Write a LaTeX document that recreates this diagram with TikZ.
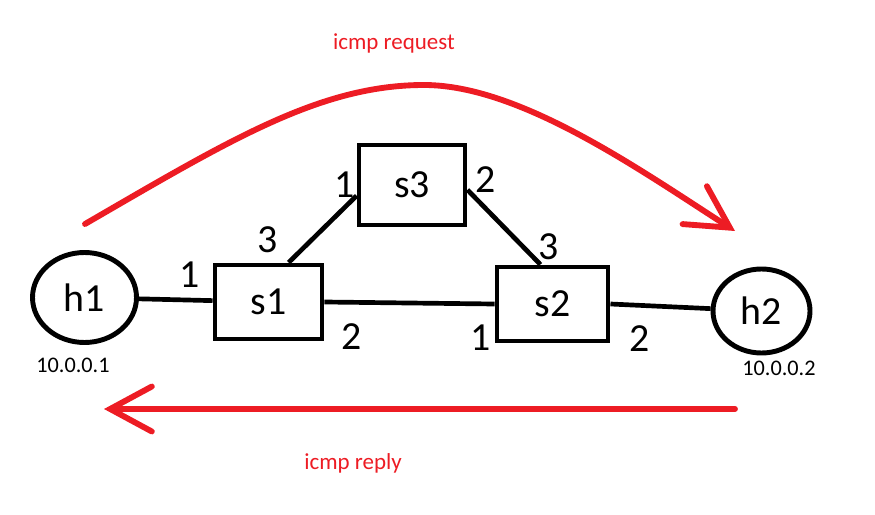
\documentclass[tikz,border=0pt]{standalone}
\usepackage{fontspec}
\setmainfont{Carlito}
\usepackage{tikz}
\usetikzlibrary{shapes.geometric}
\usetikzlibrary{arrows.meta}
\definecolor{paintred}{RGB}{237,28,36}

\begin{document}
\begin{tikzpicture}[x=0.03cm,y=-0.03cm,
host/.style={ellipse,draw,line width=4.2pt,minimum width=3.12cm,minimum height=2.7cm,inner sep=0pt,font=\fontsize{34}{40}\selectfont},
switch/.style={rectangle,draw,line width=4.2pt,minimum width=3.24cm,minimum height=2.22cm,font=\fontsize{34}{40}\selectfont},
port/.style={font=\fontsize{34}{40}\selectfont,inner sep=0pt},
addr/.style={font=\fontsize{19}{22}\selectfont,inner sep=0pt},
link/.style={line width=4pt},
flow/.style={paintred,line width=5pt,line cap=round,-{Straight Barb[length=1.25cm,width=1.35cm,line cap=round]}},
flowlabel/.style={text=paintred,font=\fontsize{19.6}{23}\selectfont,inner sep=0pt}]
\useasboundingbox (0,0) rectangle (875,515);

\node[host] (h1) at (84.5,297.5) {h1};
\node[host,minimum width=2.91cm,minimum height=2.52cm] (h2) at (761.5,311) {h2};
\node[switch,minimum width=3.21cm] (s1) at (268.5,302) {s1};
\node[switch,minimum width=3.33cm] (s2) at (552.5,304) {s2};
\node[switch,minimum width=3.18cm,minimum height=2.4cm] (s3) at (412,185) {s3};
\node[addr] (ip1) at (73,365) {10.0.0.1};
\node[addr] (ip2) at (779,368) {10.0.0.2};

\draw[link] (h1) -- (s1);
\draw[link] (s1.east) -- (s2.west);
\draw[link] (s2.east) -- (h2);
\draw[link] (s1.63) -- (s3.191);
\draw[link] (s3.-5) -- (s2.107);

\node[port] (s1p1) at (190,275) {1};
\node[port] (s1p3) at (268,240) {3};
\node[port] (s1p2) at (352,337) {2};
\node[port] (s3p1) at (345,185) {1};
\node[port] (s3p2) at (486,180) {2};
\node[port] (s2p3) at (549,247) {3};
\node[port] (s2p1) at (481,338) {1};
\node[port] (s2p2) at (640,339) {2};

\coordinate (reqstart) at (85,224);
\coordinate (reqend) at (735,231);
\draw[flow] (reqstart) .. controls (230,140) and (320,85) .. (424,85) .. controls (520,85) and (640,170) .. (reqend);
\node[flowlabel] (req) at (394,43) {icmp request};

\coordinate (repstart) at (735,409);
\coordinate (repend) at (104,409);
\draw[flow] (repstart) -- (repend);
\node[flowlabel] (rep) at (353,463) {icmp reply};

\end{tikzpicture}
\end{document}
